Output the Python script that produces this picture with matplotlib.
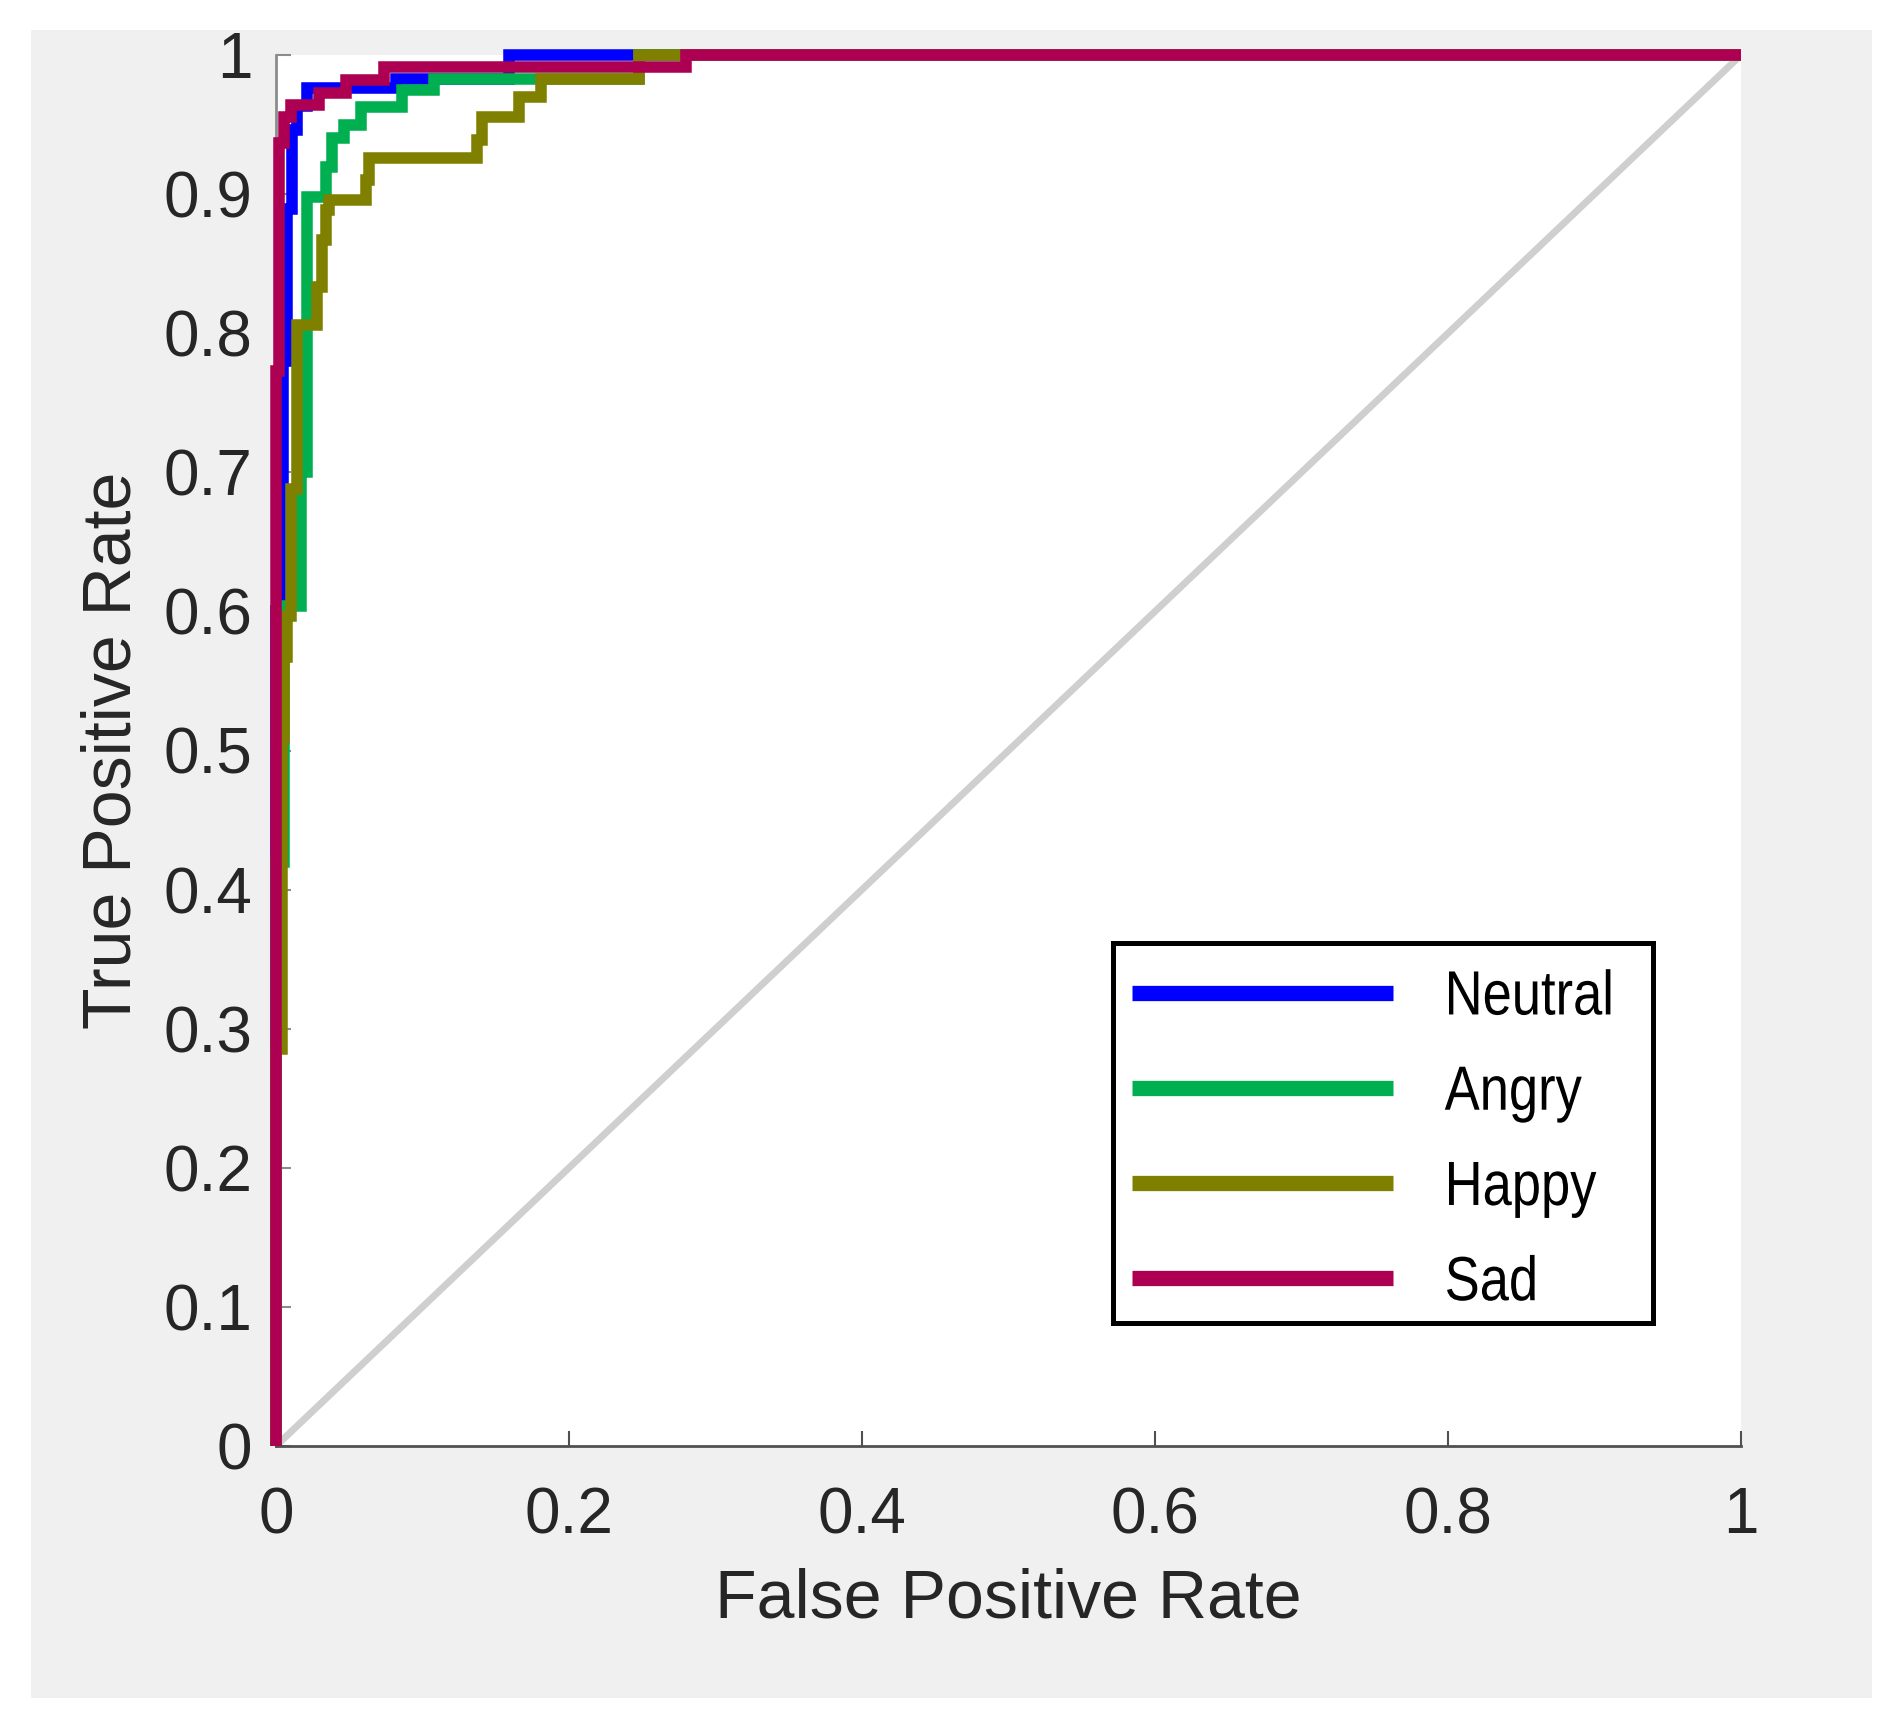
import matplotlib
matplotlib.use("Agg")
import matplotlib.pyplot as plt
from matplotlib.patches import Rectangle
from matplotlib.lines import Line2D
from matplotlib.patheffects import AbstractPathEffect
from matplotlib.transforms import Affine2D

# ---------------- data (ROC curve points) ----------------
classes = ["Neutral", "Angry", "Happy", "Sad"]
colors = ["#0000FF", "#00B050", "#808000", "#AD0052"]

fpr_neutral = [0, 0, 0.0048, 0.0048, 0.0077, 0.0077, 0.0107, 0.0107, 0.0145, 0.0145,
               0.0214, 0.0214, 0.0818, 0.0818, 0.159, 0.159, 1]
tpr_neutral = [0, 0.60, 0.60, 0.78, 0.78, 0.889, 0.889, 0.946, 0.946, 0.963,
               0.963, 0.976, 0.976, 0.9825, 0.9825, 1, 1]

fpr_angry = [0, 0, 0.0055, 0.0055, 0.0169, 0.0169, 0.021, 0.021, 0.034, 0.034,
             0.0385, 0.0385, 0.0464, 0.0464, 0.0579, 0.0579, 0.0863, 0.0863,
             0.1079, 0.1079, 0.248, 0.248, 1]
tpr_angry = [0, 0.42, 0.42, 0.604, 0.604, 0.70, 0.70, 0.898, 0.898, 0.9197,
             0.9197, 0.940, 0.940, 0.9497, 0.9497, 0.9628, 0.9628, 0.9748,
             0.9748, 0.9825, 0.9825, 1, 1]

fpr_happy = [0, 0, 0.0043, 0.0043, 0.0055, 0.0055, 0.0077, 0.0077, 0.010, 0.010,
             0.014, 0.014, 0.0282, 0.0282, 0.0316, 0.0316, 0.034, 0.034, 0.0362,
             0.0362, 0.0613, 0.0613, 0.0635, 0.0635, 0.1375, 0.1375, 0.1409,
             0.1409, 0.166, 0.166, 0.1808, 0.1808, 0.248, 0.248, 1]
tpr_happy = [0, 0.2855, 0.2855, 0.509, 0.509, 0.567, 0.567, 0.597, 0.597, 0.688,
             0.688, 0.806, 0.806, 0.8334, 0.8334, 0.867, 0.867, 0.8886, 0.8886,
             0.8957, 0.8957, 0.9101, 0.9101, 0.9257, 0.9257, 0.9389, 0.9389,
             0.9556, 0.9556, 0.970, 0.970, 0.9825, 0.9825, 1, 1]

fpr_sad = [0, 0, 0.002, 0.002, 0.0055, 0.0055, 0.010, 0.010, 0.0294, 0.0294,
           0.0476, 0.0476, 0.0738, 0.0738, 0.2798, 0.2798, 1]
tpr_sad = [0, 0.773, 0.773, 0.9365, 0.9365, 0.9556, 0.9556, 0.964, 0.964, 0.9725,
           0.9725, 0.982, 0.982, 0.9916, 0.9916, 1, 1]

chance_x = [0, 1]
chance_y = [0, 1]

tick_values = [0, 0.2, 0.4, 0.6, 0.8, 1]
tick_labels = ["0", "0.2", "0.4", "0.6", "0.8", "1"]
ytick_values = [0, 0.1, 0.2, 0.3, 0.4, 0.5, 0.6, 0.7, 0.8, 0.9, 1]
ytick_labels = ["0", "0.1", "0.2", "0.3", "0.4", "0.5", "0.6", "0.7", "0.8", "0.9", "1"]


class Narrow(AbstractPathEffect):
    """Horizontally condense text glyphs (emulates a narrow typeface)."""
    def __init__(self, sx=0.84):
        super().__init__()
        self.sx = sx

    def draw_path(self, renderer, gc, tpath, affine, rgbFace=None):
        renderer.draw_path(gc, tpath, Affine2D().scale(self.sx, 1.0) + affine, rgbFace)


# ---------------- figure ----------------
W, H = 1901, 1729
fig = plt.figure(figsize=(W / 100, H / 100), dpi=100, facecolor="white")
fig.patches.append(Rectangle((31 / W, 31 / H), (1872 - 31) / W, (1698 - 30) / H,
                             transform=fig.transFigure, facecolor="#F0F0F0",
                             edgecolor="none", zorder=-10))

ax = fig.add_axes([276 / W, (H - 1446) / H, (1741 - 276) / W, (1446 - 55) / H])
ax.set_facecolor("white")

ax.plot(chance_x, chance_y, color="#CFCFCF", lw=5, solid_capstyle="butt", zorder=1)

series = [(fpr_neutral, tpr_neutral), (fpr_angry, tpr_angry),
          (fpr_happy, tpr_happy), (fpr_sad, tpr_sad)]
for (fx, ty), c, name in zip(series, colors, classes):
    ax.plot(fx, ty, color=c, lw=8.3, solid_joinstyle="miter",
            solid_capstyle="butt", clip_on=False, zorder=3, label=name)

ax.set_xlim(0, 1)
ax.set_ylim(0, 1)

for s in ["top", "right"]:
    ax.spines[s].set_visible(False)
ax.spines["left"].set_color("#8c8c8c")
ax.spines["bottom"].set_color("#505050")
ax.spines["left"].set_linewidth(2)
ax.spines["bottom"].set_linewidth(2)

tick_font = dict(family=["Liberation Sans", "DejaVu Sans"], size=46)
ax.set_xticks(tick_values)
ax.set_xticklabels(tick_labels, **tick_font, color="#262626")
ax.set_yticks(ytick_values)
ax.set_yticklabels(ytick_labels, **tick_font, color="#262626")
ax.tick_params(axis="x", direction="in", length=10.8, width=1.5, color="#505050", pad=29)
ax.tick_params(axis="y", direction="in", length=10.8, width=1.5, color="#8c8c8c", pad=17)

label_font = dict(family=["Liberation Sans", "DejaVu Sans"], size=49, color="#262626")
ax.set_xlabel("False Positive Rate", **label_font)
ax.set_ylabel("True Positive Rate", **label_font)
ax.xaxis.set_label_coords(0.5, -0.0877)
ax.yaxis.set_label_coords(-0.0895, 0.5)

# legend frame drawn separately
ax.add_patch(Rectangle((0.571, 0.0884), 0.9399 - 0.571, 0.3616 - 0.0884,
                       transform=ax.transAxes, facecolor="white", edgecolor="black",
                       lw=3.6, zorder=5, clip_on=False))
handles = [Line2D([0], [0], color=c, lw=11, solid_capstyle="butt") for c in colors]
leg = ax.legend(handles, classes, loc="upper left", bbox_to_anchor=(0.584, 0.3433),
                frameon=False, borderpad=0, borderaxespad=0, handlelength=4.19,
                handletextpad=0.82, labelspacing=0.58,
                prop=dict(family=["Liberation Sans", "DejaVu Sans"], size=45))
leg.set_zorder(6)
for t in leg.get_texts():
    t.set_color("black")
    t.set_path_effects([Narrow(0.84)])

fig.savefig("out.png", dpi=100, facecolor="white")
